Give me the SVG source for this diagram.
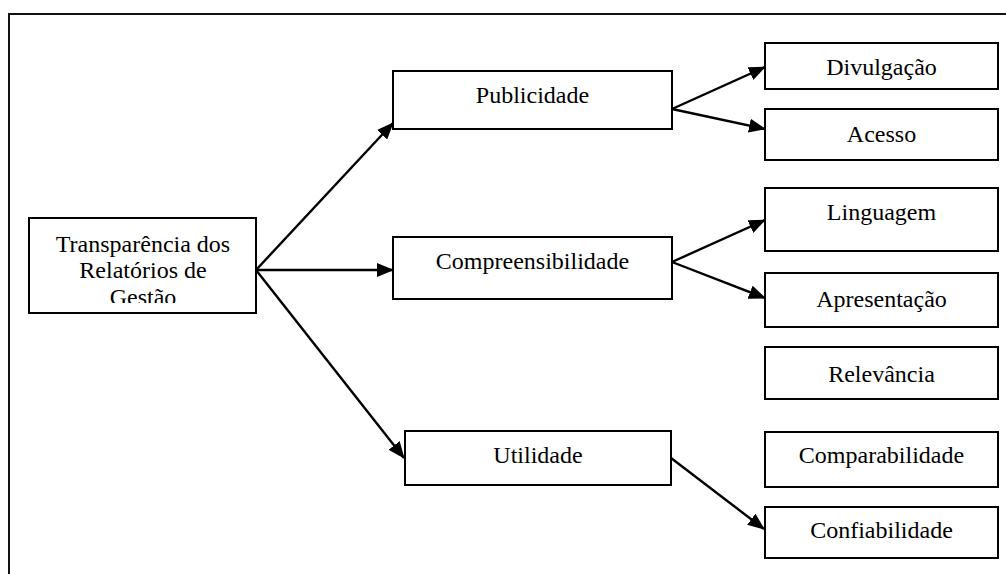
<svg xmlns="http://www.w3.org/2000/svg" width="1006" height="574" viewBox="0 0 1006 574">
<style>
  .box { fill: #ffffff; stroke: #000000; stroke-width: 2; }
  .lbl { font-family: "Liberation Serif", "Times New Roman", serif; font-size: 24px; fill: #000000; text-anchor: middle; }
  .conn { stroke: #000000; stroke-width: 2.4; fill: none; marker-end: url(#arr); }
  .frame { stroke: #111111; stroke-width: 2; fill: none; }
</style>
<defs>
  <marker id="arr" markerUnits="userSpaceOnUse" markerWidth="17" markerHeight="14" refX="16" refY="7" orient="auto">
    <path d="M0,0 L17,7 L0,14 Z" fill="#000000"/>
  </marker>
  <clipPath id="rootClip">
    <rect x="30" y="219" width="225" height="84"/>
  </clipPath>
</defs>
<rect x="0" y="0" width="1006" height="574" fill="#ffffff"/>
<g id="frame">
  <path class="frame" d="M9,574 L9,14 L1006,14"/>
</g>
<g id="connectors">
  <line class="conn" x1="256" y1="270" x2="393" y2="123"/>
  <line class="conn" x1="256" y1="270" x2="393" y2="270"/>
  <line class="conn" x1="256" y1="270" x2="404" y2="458"/>
  <line class="conn" x1="672" y1="109" x2="765" y2="67"/>
  <line class="conn" x1="672" y1="109" x2="765" y2="129"/>
  <line class="conn" x1="672" y1="262" x2="765" y2="220"/>
  <line class="conn" x1="672" y1="262" x2="765" y2="298"/>
  <line class="conn" x1="671" y1="458" x2="764" y2="529"/>
</g>
<g id="node-root">
  <rect class="box" x="29" y="218" width="227" height="95"/>
  <g clip-path="url(#rootClip)">
    <text class="lbl" x="143" y="252">Transparência dos</text>
    <text class="lbl" x="143" y="278">Relatórios de</text>
    <text class="lbl" x="143" y="305">Gestão</text>
  </g>
</g>
<g id="node-publicidade">
  <rect class="box" x="393" y="71" width="279" height="58"/>
  <text class="lbl" x="532.5" y="103">Publicidade</text>
</g>
<g id="node-compreensibilidade">
  <rect class="box" x="393" y="237" width="279" height="62"/>
  <text class="lbl" x="532.5" y="269">Compreensibilidade</text>
</g>
<g id="node-utilidade">
  <rect class="box" x="405" y="431" width="266" height="54"/>
  <text class="lbl" x="538" y="463">Utilidade</text>
</g>
<g id="node-divulgacao">
  <rect class="box" x="765" y="43" width="233" height="46"/>
  <text class="lbl" x="881.5" y="75">Divulgação</text>
</g>
<g id="node-acesso">
  <rect class="box" x="765" y="109" width="233" height="51"/>
  <text class="lbl" x="881.5" y="142">Acesso</text>
</g>
<g id="node-linguagem">
  <rect class="box" x="765" y="188" width="233" height="63"/>
  <text class="lbl" x="881.5" y="220">Linguagem</text>
</g>
<g id="node-apresentacao">
  <rect class="box" x="765" y="273" width="233" height="54"/>
  <text class="lbl" x="881.5" y="307">Apresentação</text>
</g>
<g id="node-relevancia">
  <rect class="box" x="765" y="347" width="233" height="52"/>
  <text class="lbl" x="881.5" y="382">Relevância</text>
</g>
<g id="node-comparabilidade">
  <rect class="box" x="765" y="432" width="233" height="55"/>
  <text class="lbl" x="881.5" y="463">Comparabilidade</text>
</g>
<g id="node-confiabilidade">
  <rect class="box" x="765" y="507" width="233" height="51"/>
  <text class="lbl" x="881.5" y="538">Confiabilidade</text>
</g>
</svg>
